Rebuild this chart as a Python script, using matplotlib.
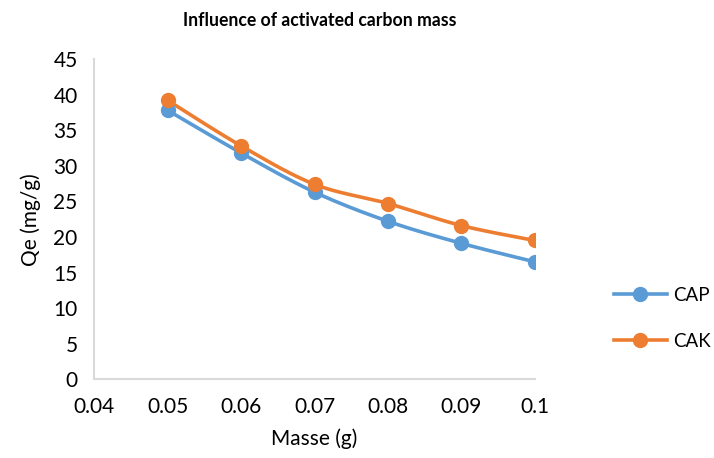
import numpy as np
import matplotlib
matplotlib.use("Agg")
import matplotlib.pyplot as plt
from matplotlib.lines import Line2D

plt.rcParams['font.family'] = ['Lato', 'DejaVu Sans']

masse = [0.05, 0.06, 0.07, 0.08, 0.09, 0.1]
cap = [37.8, 31.8, 26.3, 22.2, 19.1, 16.5]
cak = [39.2, 32.8, 27.4, 24.7, 21.6, 19.5]
xticks = [0.04, 0.05, 0.06, 0.07, 0.08, 0.09, 0.1]
xtick_labels = ['0.04', '0.05', '0.06', '0.07', '0.08', '0.09', '0.1']

BLUE = '#5B9BD5'
ORANGE = '#ED7D31'


def smooth(x, y, n=30):
    # Excel style smoothed line: cubic bezier with catmull-rom control points
    p = np.column_stack([x, y]).astype(float)
    pts = np.vstack([p[0], p, p[-1]])
    out = []
    t = np.linspace(0, 1, n)[:, None]
    for i in range(1, len(pts) - 2):
        p0, p1, p2, p3 = pts[i - 1], pts[i], pts[i + 1], pts[i + 2]
        c1 = p1 + (p2 - p0) / 6
        c2 = p2 - (p3 - p1) / 6
        seg = ((1 - t) ** 3) * p1 + 3 * ((1 - t) ** 2) * t * c1 + 3 * (1 - t) * t ** 2 * c2 + t ** 3 * p2
        out.append(seg)
    s = np.vstack(out)
    return s[:, 0], s[:, 1]


fig = plt.figure(figsize=(7.14, 4.58), dpi=100)
ax = fig.add_axes([0.132, 0.172, 0.617, 0.699])

for ys, col in [(cap, BLUE), (cak, ORANGE)]:
    sx, sy = smooth(masse, ys)
    ax.plot(sx, sy, color=col, lw=2.6, solid_capstyle='round', zorder=3)
    ax.plot(masse, ys, 'o', color=col, ms=10, zorder=4)

ax.set_xlim(0.04, 0.1)
ax.set_ylim(0, 45)
ax.set_xticks(xticks)
ax.set_xticklabels(xtick_labels)
ax.set_yticks(range(0, 46, 5))
ax.tick_params(length=0, labelsize=15, colors='black')
ax.tick_params(axis='x', pad=13)
ax.tick_params(axis='y', pad=12)
for s in ['top', 'right']:
    ax.spines[s].set_visible(False)
for s in ['left', 'bottom']:
    ax.spines[s].set_color('#D9D9D9')
    ax.spines[s].set_linewidth(1.5)

ax.set_xlabel('Masse (g)', fontsize=15, labelpad=8)
ax.set_ylabel('Qe (mg/g)', fontsize=15, labelpad=9)
fig.text(0.448, 0.955, 'Influence of activated carbon mass', ha='center', va='center',
         fontsize=12.7, fontweight='bold')

handles = [Line2D([], [], color=BLUE, lw=2.6, marker='o', ms=10),
           Line2D([], [], color=ORANGE, lw=2.6, marker='o', ms=10)]
fig.legend(handles, ['CAP', 'CAK'], loc='center left', bbox_to_anchor=(0.86, 0.305),
           frameon=False, fontsize=13.5, handlelength=2.8, labelspacing=1.55,
           handletextpad=0.35, borderpad=0, borderaxespad=0)

fig.savefig('out.png', dpi=100)
